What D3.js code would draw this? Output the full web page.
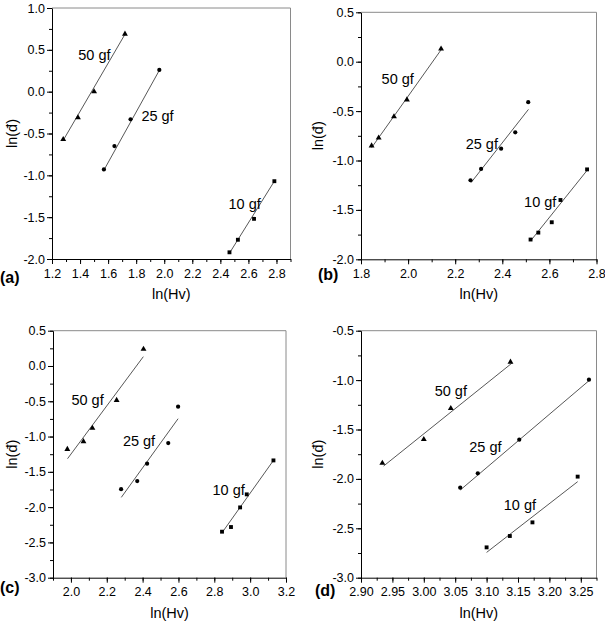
<!DOCTYPE html>
<html>
<head>
<meta charset="utf-8">
<title>ln(d) vs ln(Hv)</title>
<script src="https://cdn.jsdelivr.net/npm/d3@7"></script>
<style>
  body { margin: 0; background: #fff; }
  text { font-family: "Liberation Sans", Arial, sans-serif; fill: #000; }
</style>
</head>
<body>
<script>
// load series shown in every panel
const loads = ["50 gf", "25 gf", "10 gf"];
const panelNames = ["(a)", "(b)", "(c)", "(d)"];

// axis ranges and tick labels
const xDomains = [[1.2, 2.9], [1.8, 2.8], [1.9, 3.2], [2.9, 3.275]];
const yDomains = [[-2.0, 1.0], [-2.0, 0.5], [-3.0, 0.5], [-3.0, -0.5]];
const xTicks = [
  [1.2, 1.4, 1.6, 1.8, 2.0, 2.2, 2.4, 2.6, 2.8],
  [1.8, 2.0, 2.2, 2.4, 2.6, 2.8],
  [2.0, 2.2, 2.4, 2.6, 2.8, 3.0, 3.2],
  [2.90, 2.95, 3.00, 3.05, 3.10, 3.15, 3.20, 3.25]
];
const yTicks = [
  [-2.0, -1.5, -1.0, -0.5, 0.0, 0.5, 1.0],
  [-2.0, -1.5, -1.0, -0.5, 0.0, 0.5],
  [-3.0, -2.5, -2.0, -1.5, -1.0, -0.5, 0.0, 0.5],
  [-3.0, -2.5, -2.0, -1.5, -1.0, -0.5]
];

// measured points: one entry per panel, in the order 50, 25, 10 gf
const lnHv = [
  [[1.28, 1.385, 1.50, 1.72], [1.57, 1.645, 1.76, 1.965], [2.465, 2.525, 2.64, 2.785]],
  [[1.845, 1.875, 1.94, 1.995, 2.14], [2.265, 2.31, 2.395, 2.455, 2.51], [2.52, 2.553, 2.61, 2.647, 2.76]],
  [[1.98, 2.07, 2.12, 2.255, 2.405], [2.28, 2.37, 2.425, 2.543, 2.598], [2.843, 2.893, 2.944, 2.981, 3.13]],
  [[2.934, 3.0, 3.043, 3.138], [3.058, 3.086, 3.152, 3.263], [3.1, 3.137, 3.173, 3.245]]
];
const lnD = [
  [[-0.57, -0.31, 0.0, 0.69], [-0.93, -0.65, -0.33, 0.26], [-1.92, -1.77, -1.52, -1.07]],
  [[-0.85, -0.77, -0.555, -0.385, 0.13], [-1.20, -1.085, -0.88, -0.715, -0.41], [-1.80, -1.73, -1.625, -1.40, -1.09]],
  [[-1.18, -1.07, -0.88, -0.485, 0.24], [-1.745, -1.63, -1.385, -1.092, -0.577], [-2.348, -2.282, -2.004, -1.819, -1.338]],
  [[-1.84, -1.60, -1.286, -0.817], [-2.089, -1.944, -1.603, -0.996], [-2.693, -2.578, -2.44, -1.977]]
];

// linear fits: [x0, y0, x1, y1]
const fits = [
  [[1.277, -0.59, 1.72, 0.685], [1.566, -0.95, 1.965, 0.255], [2.465, -1.93, 2.785, -1.07]],
  [[1.845, -0.87, 2.14, 0.12], [2.267, -1.225, 2.511, -0.483], [2.521, -1.811, 2.761, -1.097]],
  [[1.981, -1.314, 2.404, 0.132], [2.281, -1.862, 2.598, -0.747], [2.843, -2.363, 3.125, -1.356]],
  [[2.936, -1.87, 3.14, -0.83], [3.058, -2.113, 3.263, -1.006], [3.1, -2.744, 3.245, -2.028]]
];

// where each "xx gf" note sits, in data units (centre of the text)
const notes = [
  [[1.502, 0.444], [1.952, -0.29], [2.573, -1.341]],
  [[1.956, -0.177], [2.313, -0.834], [2.561, -1.417]],
  [[2.093, -0.483], [2.38, -1.059], [2.88, -1.758]],
  [[3.043, -1.111], [3.098, -1.674], [3.153, -2.265]]
];

const W = 605, H = 622;
const boxes = [
  { l: 52, r: 290.5, t: 8, b: 259 },
  { l: 361, r: 596.5, t: 12.3, b: 259.3 },
  { l: 53, r: 286, t: 330.7, b: 577.7 },
  { l: 361, r: 596.5, t: 330.7, b: 577.7 }
];
const nameAt = [[0, 283], [318, 280], [0, 593], [315, 596]];
const symbols = [d3.symbolTriangle, d3.symbolCircle, d3.symbolSquare];
const symSize = [15, 14, 15];

const svg = d3.select("body").append("svg")
  .attr("width", W).attr("height", H);

panelNames.forEach((name, p) => {
  const bx = boxes[p];
  const x = d3.scaleLinear().domain(xDomains[p]).range([bx.l, bx.r]);
  const y = d3.scaleLinear().domain(yDomains[p]).range([bx.b, bx.t]);
  const g = svg.append("g");

  // grey frame on top and right
  g.append("path")
    .attr("d", `M${bx.l},${bx.t}H${bx.r}V${bx.b}`)
    .attr("fill", "none").attr("stroke", "#8a8a8a").attr("stroke-width", 1);

  const xStep = xTicks[p][1] - xTicks[p][0];
  const yStep = yTicks[p][1] - yTicks[p][0];
  const xMinor = d3.range(Math.round((xDomains[p][1] - xDomains[p][0]) / (xStep / 2)) + 1)
    .map(i => xDomains[p][0] + i * xStep / 2);
  const yMinor = d3.range(Math.round((yDomains[p][1] - yDomains[p][0]) / (yStep / 2)) + 1)
    .map(i => yDomains[p][0] + i * yStep / 2);
  const xDec = p === 3 ? 2 : 1;

  g.append("g").attr("transform", `translate(0,${bx.b})`)
    .call(d3.axisBottom(x).tickValues(xMinor).tickSize(3).tickFormat(""))
    .call(a => a.select(".domain").remove());
  g.append("g").attr("transform", `translate(0,${bx.b})`)
    .call(d3.axisBottom(x).tickValues(xTicks[p]).tickSize(5).tickSizeOuter(0)
      .tickFormat(v => v.toFixed(xDec)))
    .call(a => a.selectAll("text").attr("font-size", 12.5).attr("dy", "0.85em")
      .attr("font-family", "Liberation Sans, Arial, sans-serif").attr("fill", "#000"));

  g.append("g").attr("transform", `translate(${bx.l},0)`)
    .call(d3.axisLeft(y).tickValues(yMinor).tickSize(3).tickFormat(""))
    .call(a => a.select(".domain").remove());
  g.append("g").attr("transform", `translate(${bx.l},0)`)
    .call(d3.axisLeft(y).tickValues(yTicks[p]).tickSize(5).tickSizeOuter(0)
      .tickFormat(v => v.toFixed(1)))
    .call(a => a.selectAll("text").attr("font-size", 12.5).attr("x", -7)
      .attr("font-family", "Liberation Sans, Arial, sans-serif").attr("fill", "#000"));

  g.selectAll(".domain").attr("stroke", "#000");
  g.selectAll(".tick line").attr("stroke", "#000");

  // axis titles
  g.append("text")
    .attr("x", (bx.l + bx.r) / 2).attr("y", bx.b + 40)
    .attr("text-anchor", "middle").attr("font-size", 14.5)
    .text("ln(Hv)");
  const ty = (bx.t + bx.b) / 2, tx = p % 2 === 0 ? 17 : 323;
  g.append("text")
    .attr("transform", `translate(${tx},${ty}) rotate(-90)`)
    .attr("text-anchor", "middle").attr("font-size", 14.5)
    .text("ln(đ)");

  g.append("text")
    .attr("x", nameAt[p][0]).attr("y", nameAt[p][1])
    .attr("font-size", 16).attr("font-weight", "bold")
    .text(name);

  loads.forEach((load, s) => {
    const f = fits[p][s];
    g.append("line")
      .attr("x1", x(f[0])).attr("y1", y(f[1]))
      .attr("x2", x(f[2])).attr("y2", y(f[3]))
      .attr("stroke", "#444").attr("stroke-width", 0.9);

    const pts = lnHv[p][s].map((v, i) => [v, lnD[p][s][i]]);
    g.selectAll(null).data(pts).enter().append("path")
      .attr("d", d3.symbol().type(symbols[s]).size(symSize[s]))
      .attr("transform", d => `translate(${x(d[0])},${y(d[1])})`)
      .attr("fill", "#000");

    g.append("text")
      .attr("x", x(notes[p][s][0])).attr("y", y(notes[p][s][1]))
      .attr("dy", "0.36em")
      .attr("text-anchor", "middle").attr("font-size", 14.5)
      .text(load);
  });
});
</script>
</body>
</html>
